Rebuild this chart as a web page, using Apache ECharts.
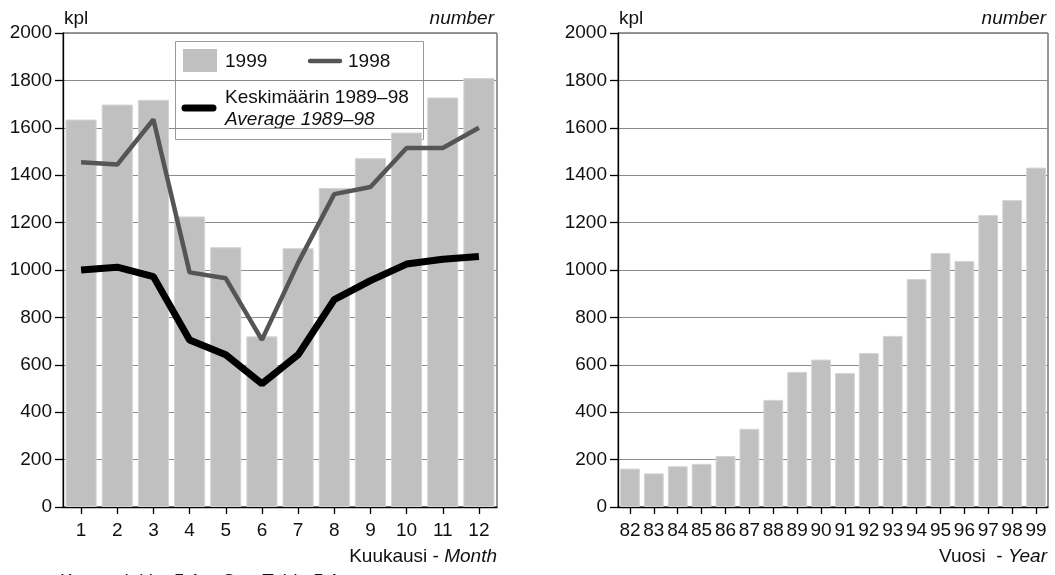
<!DOCTYPE html>
<html>
<head>
<meta charset="utf-8">
<script src="https://cdn.jsdelivr.net/npm/echarts@6/dist/echarts.min.js"></script>
<style>
  html, body { margin: 0; padding: 0; background: #fff; }
  #box { width: 1055px; height: 575px; }
</style>
</head>
<body>
<div id="box"></div>
<script>
// data ---------------------------------------------------------------
var months = ['1', '2', '3', '4', '5', '6', '7', '8', '9', '10', '11', '12'];
var bars1999 = [1635, 1698, 1718, 1226, 1096, 720, 1092, 1346, 1472, 1580, 1728, 1810];
var line1998 = [1455, 1445, 1635, 990, 965, 705, 1030, 1320, 1350, 1515, 1515, 1600];
var avg8998 = [1000, 1012, 972, 705, 642, 520, 642, 875, 955, 1025, 1045, 1057];

var years = ['82', '83', '84', '85', '86', '87', '88', '89', '90', '91', '92', '93', '94', '95', '96', '97', '98', '99'];
var yearBars = [162, 142, 172, 182, 215, 330, 452, 570, 622, 565, 650, 722, 962, 1072, 1038, 1232, 1295, 1432];

var FONT = "'Liberation Sans', Arial, sans-serif";
var FS = 19;
var barColor = '#c0c0c0';

var myChart = echarts.init(document.getElementById('box'));

function yAx(idx) {
    return {
        type: 'value',
        gridIndex: idx,
        min: 0,
        max: 2000,
        interval: 200,
        axisLine: { show: true, lineStyle: { color: '#000', width: 1.3 } },
        axisTick: { show: true, length: 8, lineStyle: { color: '#000', width: 1.3 } },
        axisLabel: {
            color: '#111', fontFamily: FONT, fontSize: FS, margin: 11,
            formatter: function (v) { return String(v); }
        },
        splitLine: { show: true, lineStyle: { color: '#8a8a8a', width: 1 } }
    };
}

function xAx(idx, cats) {
    return {
        type: 'category',
        gridIndex: idx,
        data: cats,
        axisLine: { show: true, lineStyle: { color: '#000', width: 1.3 } },
        axisTick: { show: true, alignWithLabel: true, length: 7, lineStyle: { color: '#000', width: 1.3 } },
        axisLabel: { color: '#111', fontFamily: FONT, fontSize: FS, margin: 14, interval: 0 },
        splitLine: { show: false }
    };
}

var txt = FS + 'px ' + FONT;
var itxt = 'italic ' + FS + 'px ' + FONT;

var option = {
    animation: false,
    backgroundColor: '#fff',
    grid: [
        { left: 63, right: 558, top: 33, bottom: 68, show: true, borderColor: '#333', borderWidth: 1, backgroundColor: 'transparent' },
        { left: 618, right: 7, top: 33, bottom: 68, show: true, borderColor: '#333', borderWidth: 1, backgroundColor: 'transparent' }
    ],
    xAxis: [xAx(0, months), xAx(1, years)],
    yAxis: [yAx(0), yAx(1)],
    series: [
        {
            name: '1999',
            type: 'bar',
            xAxisIndex: 0, yAxisIndex: 0,
            data: bars1999,
            barCategoryGap: '14%',
            itemStyle: { color: barColor, borderColor: '#d4d4d4', borderWidth: 1 }
        },
        {
            name: '1998',
            type: 'line',
            xAxisIndex: 0, yAxisIndex: 0,
            data: line1998,
            symbol: 'none',
            lineStyle: { color: '#555', width: 4.5 }
        },
        {
            name: 'Keskimäärin 1989–98',
            type: 'line',
            xAxisIndex: 0, yAxisIndex: 0,
            data: avg8998,
            symbol: 'none',
            lineStyle: { color: '#000', width: 7 }
        },
        {
            name: 'vuosi',
            type: 'bar',
            xAxisIndex: 1, yAxisIndex: 1,
            data: yearBars,
            barCategoryGap: '17%',
            itemStyle: { color: barColor, borderColor: '#d4d4d4', borderWidth: 1 }
        }
    ],
    graphic: [
        // axis titles
        { type: 'text', left: 64, top: 9, style: { text: 'kpl', font: txt, fill: '#111' } },
        { type: 'text', right: 561, top: 9, style: { text: 'number', font: itxt, fill: '#111' } },
        { type: 'text', left: 619, top: 9, style: { text: 'kpl', font: txt, fill: '#111' } },
        { type: 'text', right: 9, top: 9, style: { text: 'number', font: itxt, fill: '#111' } },
        {
            type: 'text', right: 558, top: 547,
            style: {
                text: '{n|Kuukausi - }{i|Month}',
                rich: { n: { font: txt, fill: '#111' }, i: { font: itxt, fill: '#111' } }
            }
        },
        {
            type: 'text', right: 8, top: 547,
            style: {
                text: '{n|Vuosi  - }{i|Year}',
                rich: { n: { font: txt, fill: '#111' }, i: { font: itxt, fill: '#111' } }
            }
        },
        {
            type: 'text', left: 60, top: 572,
            style: {
                text: '{n|Kts. taulukko 5.1 – }{i|See Table 5.1}',
                rich: { n: { font: txt, fill: '#111' }, i: { font: itxt, fill: '#111' } }
            }
        },
        // legend box
        {
            type: 'group',
            z: 100,
            children: [
                { type: 'rect', shape: { x: 175.5, y: 41.5, width: 248, height: 98 }, style: { fill: '#fff', stroke: '#999', lineWidth: 1 } },
                { type: 'rect', shape: { x: 183, y: 49, width: 34, height: 23 }, style: { fill: barColor } },
                { type: 'text', x: 225, y: 62, style: { text: '1999', font: txt, fill: '#111', textVerticalAlign: 'middle' } },
                { type: 'line', shape: { x1: 310, y1: 61, x2: 340, y2: 61 }, style: { stroke: '#555', lineWidth: 4.5, lineCap: 'round' } },
                { type: 'text', x: 348, y: 62, style: { text: '1998', font: txt, fill: '#111', textVerticalAlign: 'middle' } },
                { type: 'line', shape: { x1: 185, y1: 108, x2: 213, y2: 108 }, style: { stroke: '#000', lineWidth: 7, lineCap: 'round' } },
                { type: 'text', x: 225, y: 98, style: { text: 'Keskimäärin 1989–98', font: txt, fill: '#111', textVerticalAlign: 'middle' } },
                { type: 'text', x: 225, y: 120, style: { text: 'Average 1989–98', font: itxt, fill: '#111', textVerticalAlign: 'middle' } }
            ]
        }
    ]
};

option && myChart.setOption(option);
</script>
</body>
</html>
